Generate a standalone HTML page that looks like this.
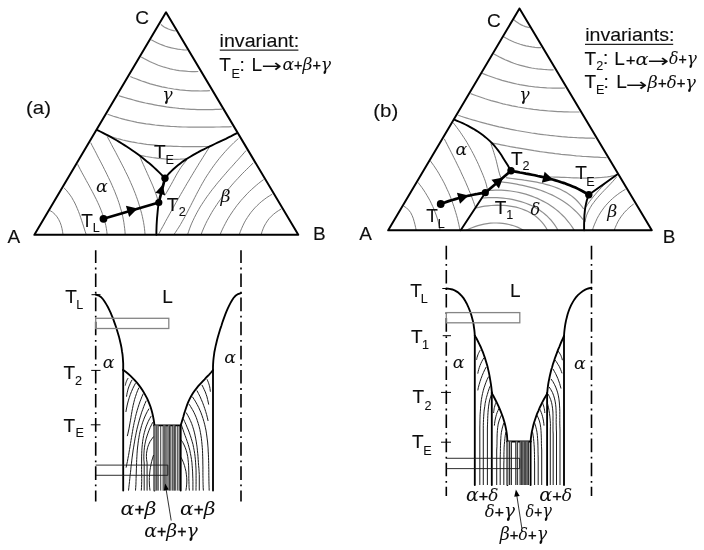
<!DOCTYPE html>
<html><head><meta charset="utf-8"><title>Ternary phase diagrams</title>
<style>
html,body{margin:0;padding:0;background:#fff}
svg{display:block}
text{fill:#111}
.t{font-family:"Liberation Sans",sans-serif;font-size:19px;stroke:#111;stroke-width:.12}
.s{font-family:"Liberation Sans",sans-serif;font-size:12.6px;stroke:#111;stroke-width:.1}
.gt{font-family:"DejaVu Serif",serif;font-style:italic;font-size:17.4px}
.gi{font-family:"DejaVu Serif",serif;font-style:italic;font-size:17.4px}
.pi{font-family:"Liberation Sans",sans-serif;font-size:14.5px}
.ga{font-family:"DejaVu Serif",serif;font-style:italic;font-size:19px}
.pa{font-family:"Liberation Sans",sans-serif;font-size:16px}
.gb{font-family:"DejaVu Serif",serif;font-style:italic;font-size:17.6px}
.pb{font-family:"Liberation Sans",sans-serif;font-size:15px}
.pp{stroke:#111;stroke-width:.35}
.gt.dl{font-size:16.2px}.gi.dl{font-size:16.2px}.gb.dl{font-size:15.8px}
.ar{font-family:"DejaVu Sans",sans-serif;font-size:18px}
.g{fill:none;stroke:#909090;stroke-width:1.2}
.h{fill:none;stroke:#6e6e6e;stroke-width:.9}
.k{fill:none;stroke:#000;stroke-width:1.9;stroke-linecap:round}
.tri{fill:none;stroke:#000;stroke-width:1.95;stroke-linejoin:round}
.p{fill:none;stroke:#000;stroke-width:2.7;stroke-linecap:round}
.ul{stroke:#222;stroke-width:1.3}
.dd{stroke:#000;stroke-width:1.6;stroke-dasharray:13.6 4.6 1.8 4.1}
.da{stroke-dashoffset:.9}
.tk{stroke:#000;stroke-width:1}
.c{fill:none;stroke:#000;stroke-width:1.85;stroke-linecap:round}
.tr{fill:none;stroke:#858585;stroke-width:1.3}
.t2{fill:none;stroke:#1a1a1a;stroke-width:.9}
.bl{stroke:#1a1a1a;stroke-width:.85}
.ht{fill:none;stroke:#111;stroke-width:.95}
</style></head><body>
<svg width="704" height="550" viewBox="0 0 704 550">
<defs><filter id="soft" x="0" y="0" width="704" height="550" filterUnits="userSpaceOnUse"><feGaussianBlur stdDeviation="0.42"/></filter></defs>
<rect width="704" height="550" fill="#fff"/>
<g filter="url(#soft)">
<g id="fig-a">
<path class="g" d="M160.9 24.4 L162.5 25.7 L164.2 26.9 L166.0 27.9 L167.8 28.8 L169.7 29.5 L171.6 30.1 L173.6 30.6 L175.7 30.9"/>
<path class="g" d="M151.2 39.8 L154.0 41.3 L156.9 42.7 L159.7 44.0 L162.6 45.1 L165.5 46.2 L168.5 47.1 L171.5 47.9 L174.5 48.5 L177.6 49.1 L180.7 49.5 L183.8 49.8 L187.0 50.0"/>
<path class="g" d="M141.2 56.9 L144.0 58.5 L146.8 60.0 L149.6 61.5 L152.5 62.8 L155.4 64.0 L158.3 65.2 L161.2 66.2 L164.2 67.2 L167.2 68.0 L170.2 68.8 L173.2 69.5 L176.3 70.1 L179.3 70.6 L182.4 70.9 L185.6 71.2 L188.7 71.5 L191.9 71.6 L195.1 71.6 L198.3 71.5"/>
<path class="g" d="M130.3 76.5 L133.1 77.7 L136.0 78.8 L138.8 79.9 L141.7 81.0 L144.6 81.9 L147.4 82.9 L150.3 83.8 L153.2 84.6 L156.1 85.4 L159.0 86.1 L161.9 86.8 L164.9 87.4 L167.8 88.0 L170.8 88.5 L173.7 89.0 L176.7 89.4 L179.7 89.8 L182.6 90.1 L185.6 90.4 L188.6 90.6 L191.7 90.8 L194.7 90.9 L197.7 90.9 L200.7 91.0 L203.8 90.9 L206.8 90.8 L209.9 90.7"/>
<path class="g" d="M118.8 95.7 L121.7 96.6 L124.7 97.5 L127.6 98.4 L130.6 99.2 L133.5 100.0 L136.5 100.8 L139.5 101.6 L142.5 102.3 L145.5 103.0 L148.5 103.6 L151.5 104.2 L154.5 104.8 L157.5 105.4 L160.6 105.9 L163.6 106.4 L166.6 106.9 L169.7 107.3 L172.7 107.7 L175.8 108.0 L178.9 108.4 L181.9 108.6 L185.0 108.9 L188.1 109.1 L191.1 109.3 L194.2 109.4 L197.3 109.6 L200.3 109.6 L203.4 109.7 L206.5 109.7 L209.6 109.6 L212.7 109.6 L215.7 109.4 L218.8 109.3 L221.9 109.1"/>
<path class="g" d="M107.6 114.2 L110.5 115.2 L113.4 116.2 L116.4 117.1 L119.3 118.0 L122.2 118.8 L125.2 119.6 L128.2 120.3 L131.1 121.0 L134.1 121.7 L137.1 122.3 L140.1 122.8 L143.1 123.3 L146.1 123.8 L149.2 124.2 L152.2 124.6 L155.2 125.0 L158.2 125.3 L161.3 125.6 L164.3 125.9 L167.4 126.1 L170.4 126.4 L173.5 126.5 L176.6 126.7 L179.6 126.8 L182.7 127.0 L185.7 127.0 L188.8 127.1 L191.9 127.2 L194.9 127.2 L198.0 127.2 L201.1 127.2 L204.1 127.2 L207.2 127.2 L210.3 127.1 L213.3 127.1 L216.4 127.0 L219.4 127.0 L222.5 126.9 L225.5 126.8 L228.6 126.8 L231.6 126.7"/>
<path class="g" d="M108.2 135.8 L111.1 136.7 L114.0 137.6 L116.9 138.5 L119.8 139.2 L122.8 140.0 L125.7 140.7 L128.7 141.3 L131.6 141.9 L134.6 142.4 L137.6 143.0 L140.6 143.4 L143.6 143.9 L146.6 144.3 L149.6 144.6 L152.6 144.9 L155.6 145.2 L158.6 145.5 L161.6 145.7 L164.6 145.9 L167.6 146.1 L170.7 146.2 L173.7 146.3 L176.7 146.4 L179.8 146.5 L182.8 146.6 L185.8 146.6 L188.8 146.6 L191.9 146.6 L194.9 146.6 L197.9 146.6 L200.9 146.6 L204.0 146.5 L207.0 146.5 L210.0 146.4"/>
<path class="g" d="M139.8 155.3 L142.9 155.9 L145.9 156.5 L149.0 157.0 L152.1 157.5 L155.2 157.9 L158.3 158.3 L161.4 158.6 L164.5 158.9 L167.7 159.1 L170.8 159.2 L173.9 159.3 L177.0 159.3 L180.2 159.2 L183.3 159.0 L186.4 158.8"/>
<path class="h" d="M49.9 210.5 L52.6 212.2 L55.0 214.4 L57.0 216.8 L58.7 219.5 L60.1 222.4 L61.2 225.4 L62.0 228.6 L62.6 231.7 L63.0 234.8"/>
<path class="h" d="M64.1 188.0 L66.3 190.2 L68.2 192.6 L70.1 195.1 L71.8 197.6 L73.3 200.3 L74.8 203.0 L76.1 205.8 L77.3 208.6 L78.5 211.5 L79.6 214.4 L80.6 217.3 L81.6 220.3 L82.5 223.2 L83.5 226.1 L84.4 229.1 L85.3 231.9 L86.3 234.8"/>
<path class="h" d="M77.6 164.2 L79.0 167.0 L80.4 169.7 L81.8 172.4 L83.3 175.1 L84.8 177.8 L86.3 180.6 L87.8 183.3 L89.3 186.0 L90.7 188.7 L92.2 191.4 L93.6 194.1 L95.0 196.9 L96.4 199.6 L97.7 202.4 L99.0 205.2 L100.2 208.0 L101.3 210.8 L102.4 213.7 L103.3 216.6 L104.2 219.5 L105.1 222.5 L105.8 225.5 L106.4 228.6 L106.8 231.7 L107.2 234.8"/>
<path class="h" d="M90.7 142.6 L92.0 145.3 L93.4 147.9 L94.8 150.6 L96.2 153.2 L97.5 155.9 L98.9 158.6 L100.3 161.2 L101.7 163.9 L103.1 166.6 L104.4 169.3 L105.8 172.0 L107.1 174.7 L108.4 177.4 L109.7 180.1 L111.0 182.9 L112.2 185.6 L113.4 188.4 L114.6 191.2 L115.7 194.0 L116.8 196.8 L117.8 199.6 L118.8 202.4 L119.7 205.2 L120.5 208.1 L121.4 211.0 L122.1 213.9 L122.8 216.8 L123.4 219.8 L123.9 222.7 L124.3 225.7 L124.7 228.7 L125.0 231.7 L125.2 234.8"/>
<path class="h" d="M107.2 136.4 L108.6 139.1 L110.0 141.7 L111.4 144.4 L112.8 147.1 L114.3 149.8 L115.7 152.4 L117.1 155.1 L118.5 157.8 L119.9 160.5 L121.3 163.2 L122.7 165.9 L124.1 168.6 L125.4 171.4 L126.8 174.1 L128.1 176.8 L129.4 179.6 L130.6 182.4 L131.8 185.1 L133.0 187.9 L134.1 190.7 L135.3 193.6 L136.3 196.4 L137.3 199.2 L138.3 202.1 L139.2 205.0 L140.1 207.9 L140.9 210.8 L141.7 213.7 L142.4 216.7 L143.0 219.6 L143.6 222.6 L144.1 225.6 L144.5 228.7 L144.8 231.7 L145.1 234.8"/>
<path class="h" d="M139.8 155.9 L140.9 158.9 L142.1 161.8 L143.4 164.7 L144.7 167.6 L146.0 170.5 L147.3 173.4 L148.6 176.3 L149.9 179.2 L151.2 182.1 L152.5 185.1 L153.7 188.0 L154.8 190.9 L155.9 193.9 L156.9 196.9 L157.8 200.0"/>
<path class="h" d="M186.8 160.0 L184.7 162.5 L182.7 165.0 L180.8 167.6 L179.1 170.3 L177.4 173.1 L175.8 175.9 L174.3 178.7 L172.7 181.6 L171.2 184.4 L169.6 187.2 L168.0 190.0 L166.4 192.8 L164.6 195.5"/>
<path class="h" d="M209.5 147.0 L207.8 149.6 L206.2 152.2 L204.5 154.8 L202.9 157.4 L201.3 160.0 L199.6 162.6 L198.0 165.3 L196.4 167.9 L194.8 170.5 L193.2 173.2 L191.6 175.8 L190.1 178.4 L188.5 181.1 L186.9 183.7 L185.4 186.4 L183.8 189.1 L182.3 191.7 L180.7 194.4 L179.2 197.1 L177.7 199.7 L176.1 202.4 L174.6 205.1 L173.1 207.8 L171.6 210.5 L170.1 213.2 L168.6 215.9 L167.1 218.6 L165.6 221.3 L164.2 224.0 L162.7 226.7 L161.2 229.4 L159.8 232.1 L158.3 234.8"/>
<path class="h" d="M238.4 138.5 L236.1 140.6 L233.8 142.7 L231.6 144.9 L229.4 147.1 L227.3 149.3 L225.2 151.6 L223.2 153.9 L221.2 156.2 L219.2 158.6 L217.3 161.0 L215.5 163.4 L213.7 165.8 L211.9 168.3 L210.2 170.8 L208.5 173.4 L206.8 175.9 L205.2 178.5 L203.7 181.1 L202.1 183.8 L200.6 186.5 L199.2 189.2 L197.7 191.9 L196.3 194.6 L194.9 197.3 L193.5 200.1 L192.1 202.8 L190.7 205.6 L189.3 208.3 L187.9 211.0 L186.5 213.8 L185.0 216.5 L183.5 219.2 L182.0 221.8 L180.5 224.5 L178.9 227.1 L177.2 229.7 L175.5 232.3 L173.8 234.8"/>
<path class="h" d="M246.1 150.5 L244.1 152.8 L242.1 155.1 L240.1 157.3 L238.1 159.6 L236.0 161.8 L234.0 164.1 L232.0 166.4 L229.9 168.6 L227.9 170.9 L225.9 173.2 L223.9 175.5 L221.9 177.8 L220.0 180.1 L218.0 182.4 L216.1 184.8 L214.2 187.2 L212.3 189.5 L210.5 191.9 L208.7 194.4 L206.9 196.8 L205.2 199.3 L203.5 201.8 L201.8 204.4 L200.2 206.9 L198.7 209.5 L197.2 212.2 L195.8 214.8 L194.4 217.6 L193.1 220.3 L191.8 223.1 L190.6 226.0 L189.5 228.9 L188.5 231.8 L187.5 234.8"/>
<path class="h" d="M253.2 163.0 L251.0 165.1 L248.8 167.3 L246.6 169.4 L244.4 171.6 L242.2 173.8 L240.1 176.0 L238.0 178.3 L235.9 180.5 L233.8 182.8 L231.8 185.1 L229.8 187.5 L227.8 189.8 L225.9 192.2 L224.0 194.7 L222.1 197.1 L220.3 199.6 L218.5 202.1 L216.8 204.6 L215.1 207.2 L213.4 209.8 L211.8 212.4 L210.3 215.1 L208.8 217.8 L207.3 220.5 L205.9 223.3 L204.6 226.1 L203.3 229.0 L202.1 231.9 L201.0 234.8"/>
<path class="h" d="M263.6 179.6 L261.1 181.4 L258.7 183.3 L256.3 185.3 L254.0 187.3 L251.7 189.4 L249.4 191.5 L247.2 193.7 L245.1 196.0 L243.0 198.3 L240.9 200.6 L239.0 203.0 L237.0 205.4 L235.2 207.9 L233.4 210.4 L231.6 213.0 L229.9 215.6 L228.3 218.2 L226.7 220.9 L225.3 223.6 L223.8 226.4 L222.5 229.1 L221.2 232.0 L220.0 234.8"/>
<path class="h" d="M272.2 194.2 L269.4 195.9 L266.7 197.6 L264.2 199.5 L261.7 201.4 L259.3 203.5 L257.1 205.6 L254.9 207.8 L252.9 210.1 L250.9 212.5 L249.1 215.0 L247.4 217.5 L245.7 220.2 L244.2 222.9 L242.8 225.8 L241.5 228.7 L240.3 231.7 L239.2 234.8"/>
<path class="h" d="M281.2 209.0 L278.5 210.6 L275.9 212.4 L273.5 214.3 L271.3 216.3 L269.2 218.5 L267.4 220.9 L265.8 223.4 L264.3 226.0 L263.1 228.8 L262.0 231.7 L261.1 234.8"/>
<path class="k" d="M97.4 130.1 L100.2 131.5 L102.9 132.9 L105.7 134.3 L108.4 135.7 L111.1 137.2 L113.8 138.7 L116.5 140.3 L119.2 141.9 L121.8 143.5 L124.4 145.1 L127.0 146.8 L129.6 148.5 L132.1 150.2 L134.7 152.0 L137.2 153.8 L139.6 155.6 L142.1 157.5 L144.5 159.4 L146.9 161.4 L149.3 163.3 L151.6 165.3 L153.9 167.4 L156.2 169.5 L158.4 171.6 L160.7 173.8 L162.8 176.0 L165.0 178.2"/>
<path class="k" d="M236.5 133.3 L233.9 134.7 L231.2 136.1 L228.5 137.4 L225.8 138.8 L223.0 140.1 L220.3 141.4 L217.5 142.7 L214.7 144.0 L212.0 145.3 L209.2 146.7 L206.4 148.0 L203.7 149.4 L201.0 150.7 L198.3 152.2 L195.6 153.6 L192.9 155.1 L190.3 156.7 L187.7 158.3 L185.2 159.9 L182.7 161.6 L180.3 163.4 L177.9 165.3 L175.6 167.2 L173.3 169.2 L171.1 171.3 L169.0 173.5 L167.0 175.8 L165.0 178.2"/>
<path class="k" d="M158.8 202.5 L158.3 205.7 L157.9 208.9 L157.6 212.1 L157.3 215.4 L157.0 218.6 L156.8 221.8 L156.6 225.1 L156.5 228.3 L156.4 231.6 L156.4 234.8"/>
<polygon class="tri" points="34.40,234.80 298.30,234.80 166.00,12.30"/>
<line class="p" x1="103.50" y1="218.80" x2="158.80" y2="202.50"/>
<line class="p" x1="158.80" y1="202.50" x2="165.00" y2="178.20"/>
<polygon fill="#000" points="137.60,208.40 129.15,216.88 125.90,205.85"/>
<polygon fill="#000" points="162.60,184.80 165.10,195.24 155.41,192.77"/>
<circle cx="103.50" cy="218.80" r="3.90" fill="#000"/>
<circle cx="158.80" cy="202.50" r="3.60" fill="#000"/>
<circle cx="165.00" cy="178.20" r="3.70" fill="#000"/>
<text id="t1" class="t" x="135.15" y="23.65">C</text>
<text id="t2" class="t" x="7.45" y="243.20">A</text>
<text id="t3" class="t" x="313.10" y="240.30">B</text>
<text id="t4" class="t" x="26.03" y="113.55" textLength="24.99" lengthAdjust="spacingAndGlyphs">(a)</text>
<text id="aTLT" class="t" x="81.20" y="226.85">T</text>
<text id="aTLs" class="s" x="92.67" y="232.05">L</text>
<text id="aT2T" class="t" x="166.85" y="210.80">T</text>
<text id="aT2s" class="s" x="178.85" y="216.00">2</text>
<text id="aTET" class="t" x="154.10" y="158.20">T</text>
<text id="aTEs" class="s" x="165.50" y="163.65">E</text>
<text id="t11" class="gt" x="95.90" y="192.40">α</text>
<text id="t12" class="gt" x="220.55" y="201.85">β</text>
<text id="t13" class="gt" x="162.35" y="100.27">γ</text>
<text id="t14" class="t" x="219.52" y="46.95" textLength="79.77" lengthAdjust="spacingAndGlyphs">invariant:</text>
<line class="ul" x1="219.80" y1="50.10" x2="298.40" y2="50.10"/>
<text id="aiTT" class="t" x="219.35" y="71.40">T</text>
<text id="aiTs" class="s" x="231.50" y="77.88">E</text>
<text id="t17" class="t" x="239.45" y="71.40">:</text>
<text id="t18" class="t" x="251.50" y="71.40">L</text>
<text id="t19" class="ar" x="261.64" y="72.20" textLength="20.43" lengthAdjust="spacingAndGlyphs">→</text>
<text id="ai_g" x="282.40" y="70.40" textLength="48.66" lengthAdjust="spacingAndGlyphs"><tspan class="gi">α</tspan><tspan class="pi pp">+</tspan><tspan class="gi">β</tspan><tspan class="pi pp">+</tspan><tspan class="gi">γ</tspan></text>
<line class="dd da" x1="95.70" y1="250.30" x2="95.70" y2="501.50"/>
<line class="dd da" x1="241.00" y1="250.30" x2="241.00" y2="501.50"/>
<line class="tk" x1="91.50" y1="294.70" x2="100.50" y2="294.70"/>
<line class="tk" x1="91.20" y1="370.40" x2="100.50" y2="370.40"/>
<line class="tk" x1="90.80" y1="424.80" x2="100.50" y2="424.80"/>
<path class="c" d="M95.7 294.5 L98.7 295.5 L101.2 297.2 L103.2 299.5 L104.9 302.0 L106.5 304.6 L108.0 307.3 L109.4 310.1 L110.7 312.9 L111.9 315.8 L113.1 318.7 L114.1 321.6 L115.2 324.6 L116.2 327.5 L117.1 330.4 L118.0 333.4 L118.9 336.4 L119.6 339.3 L120.3 342.3 L121.0 345.3 L121.6 348.3 L122.0 351.4 L122.5 354.4 L122.8 357.5 L123.0 360.5 L123.2 363.6 L123.2 366.8 L123.2 369.9"/>
<path class="c" d="M241.0 293.1 L238.0 294.1 L235.5 295.8 L233.5 298.0 L231.9 300.5 L230.4 303.1 L229.0 305.8 L227.7 308.6 L226.5 311.4 L225.4 314.2 L224.3 317.1 L223.3 319.9 L222.3 322.8 L221.4 325.7 L220.4 328.6 L219.5 331.5 L218.6 334.4 L217.8 337.3 L217.0 340.2 L216.3 343.2 L215.6 346.1 L215.0 349.1 L214.4 352.0 L214.0 355.0 L213.6 358.0 L213.3 361.0 L213.1 364.1 L213.0 367.1 L213.0 370.2"/>
<rect class="tr" x="95.7" y="318.3" width="73.1" height="10.2"/>
<line class="c" x1="123.20" y1="369.90" x2="123.20" y2="490.60"/>
<line class="c" x1="213.00" y1="370.20" x2="213.00" y2="490.60"/>
<path class="c" d="M123.2 369.9 L125.7 371.8 L128.1 373.8 L130.5 375.9 L132.7 378.1 L134.9 380.3 L136.9 382.7 L138.9 385.1 L140.7 387.6 L142.5 390.2 L144.1 392.9 L145.6 395.6 L147.1 398.3 L148.3 401.2 L149.5 404.1 L150.6 407.0 L151.5 410.0 L152.3 413.0 L153.0 416.1 L153.6 419.2 L154.1 422.3 L154.4 425.4"/>
<path class="c" d="M213.0 370.2 L211.0 372.5 L208.9 374.8 L206.7 377.0 L204.6 379.3 L202.4 381.6 L200.3 383.9 L198.2 386.2 L196.3 388.6 L194.4 391.0 L192.7 393.6 L191.1 396.2 L189.7 398.9 L188.4 401.7 L187.2 404.6 L186.2 407.5 L185.2 410.5 L184.2 413.5 L183.4 416.5 L182.5 419.5 L181.6 422.5 L180.7 425.4"/>
<line class="c" x1="154.40" y1="425.40" x2="180.70" y2="425.40"/>
<line class="c" x1="154.40" y1="425.40" x2="154.40" y2="490.60"/>
<line class="c" x1="180.70" y1="425.40" x2="180.70" y2="490.60"/>
<rect x="154.4" y="425.4" width="4.2" height="65.2" fill="#b2b2b2"/>
<rect x="163.1" y="425.4" width="2.5" height="65.2" fill="#b2b2b2"/>
<rect x="167.9" y="425.4" width="2.5" height="65.2" fill="#b2b2b2"/>
<rect x="172.7" y="425.4" width="2.5" height="65.2" fill="#b2b2b2"/>
<line class="bl" x1="156.20" y1="425.40" x2="156.20" y2="490.60"/>
<line class="bl" x1="158.10" y1="425.40" x2="158.10" y2="490.60"/>
<line class="bl" x1="160.70" y1="425.40" x2="160.70" y2="490.60"/>
<line class="bl" x1="163.10" y1="425.40" x2="163.10" y2="490.60"/>
<line class="bl" x1="164.90" y1="425.40" x2="164.90" y2="490.60"/>
<line class="bl" x1="166.20" y1="425.40" x2="166.20" y2="490.60"/>
<line class="bl" x1="167.90" y1="425.40" x2="167.90" y2="490.60"/>
<line class="bl" x1="169.60" y1="425.40" x2="169.60" y2="490.60"/>
<line class="bl" x1="170.90" y1="425.40" x2="170.90" y2="490.60"/>
<line class="bl" x1="172.70" y1="425.40" x2="172.70" y2="490.60"/>
<line class="bl" x1="174.30" y1="425.40" x2="174.30" y2="490.60"/>
<line class="bl" x1="175.70" y1="425.40" x2="175.70" y2="490.60"/>
<line class="bl" x1="177.70" y1="425.40" x2="177.70" y2="490.60"/>
<line class="bl" x1="179.20" y1="425.40" x2="179.20" y2="490.60"/>
<path class="ht" d="M128.1 378.1 L127.6 379.0 L127.1 379.8 L126.7 380.7 L126.3 381.7 L126.0 382.6 L125.7 383.5 L125.5 384.5 L125.3 385.5"/>
<path class="ht" d="M132.1 379.8 L131.0 381.8 L130.1 383.8 L129.2 385.9 L128.4 388.0 L127.8 390.1 L127.3 392.3 L126.8 394.5 L126.5 396.7"/>
<path class="ht" d="M135.5 383.2 L134.1 385.9 L132.7 388.7 L131.5 391.5 L130.4 394.3 L129.4 397.2 L128.5 400.1 L127.7 403.0 L127.0 406.0 L126.4 409.0 L125.9 412.0"/>
<path class="ht" d="M138.9 387.7 L137.6 390.6 L136.5 393.5 L135.5 396.5 L134.6 399.4 L133.8 402.5 L133.1 405.5 L132.5 408.5 L131.9 411.6 L131.4 414.7 L130.9 417.7 L130.4 420.8 L129.8 423.9 L129.3 427.0 L128.7 430.0 L128.0 433.1 L127.3 436.1"/>
<path class="ht" d="M143.4 393.4 L142.1 396.2 L141.0 399.1 L139.9 401.9 L138.9 404.8 L138.0 407.7 L137.1 410.6 L136.3 413.6 L135.5 416.5 L134.9 419.5 L134.2 422.5 L133.6 425.5 L133.0 428.5 L132.5 431.5 L132.0 434.5 L131.5 437.5 L131.0 440.5 L130.5 443.6 L130.0 446.6 L129.5 449.6 L129.0 452.6 L128.5 455.6 L127.9 458.6 L127.4 461.6 L126.7 464.6 L126.1 467.6"/>
<path class="ht" d="M146.2 400.7 L145.0 403.5 L143.8 406.4 L142.8 409.3 L141.7 412.2 L140.8 415.1 L139.9 418.0 L139.1 420.9 L138.3 423.9 L137.5 426.9 L136.8 429.8 L136.2 432.8 L135.6 435.8 L135.0 438.8 L134.5 441.9 L134.0 444.9 L133.5 447.9 L133.0 451.0 L132.6 454.0 L132.2 457.1 L131.8 460.1 L131.5 463.2 L131.1 466.2 L130.8 469.3 L130.5 472.3 L130.1 475.4 L129.8 478.4 L129.5 481.5 L129.2 484.5 L128.8 487.6 L128.5 490.6"/>
<path class="ht" d="M149.0 408.6 L147.4 411.4 L146.0 414.1 L144.7 417.0 L143.6 419.8 L142.5 422.8 L141.6 425.7 L140.8 428.7 L140.0 431.7 L139.4 434.7 L138.9 437.7 L138.4 440.8 L138.0 443.9 L137.6 447.0 L137.3 450.1 L137.1 453.2 L136.9 456.3 L136.7 459.5 L136.6 462.6 L136.5 465.7 L136.4 468.9 L136.3 472.0 L136.2 475.1 L136.1 478.3 L136.0 481.4 L135.9 484.5 L135.7 487.5 L135.5 490.6"/>
<path class="ht" d="M151.3 415.9 L149.7 418.6 L148.3 421.3 L147.1 424.1 L146.0 426.9 L145.1 429.8 L144.3 432.7 L143.6 435.6 L143.1 438.6 L142.6 441.6 L142.3 444.6 L142.0 447.7 L141.8 450.7 L141.7 453.8 L141.6 456.9 L141.6 460.0 L141.6 463.1 L141.6 466.2 L141.6 469.3 L141.6 472.4 L141.7 475.5 L141.7 478.5 L141.7 481.6 L141.6 484.6 L141.5 487.6 L141.3 490.6"/>
<path class="ht" d="M152.9 422.1 L151.5 424.8 L150.2 427.5 L149.0 430.3 L148.0 433.1 L147.0 436.0 L146.1 438.9 L145.4 441.9 L144.8 444.8 L144.4 447.8 L144.1 450.8 L143.9 453.9 L143.8 456.9 L143.9 460.0 L144.2 463.0 L144.2 490.6"/>
<path class="ht" d="M153.6 436.5 L151.7 439.1 L150.0 441.7 L148.7 444.5 L147.7 447.3 L147.0 450.3 L146.5 453.3 L146.4 456.5 L146.6 459.7 L147.1 463.0 L147.1 490.6"/>
<path class="ht" d="M153.6 455.0 L152.6 458.1 L151.7 461.3 L151.0 464.5 L150.4 467.7 L149.9 470.9 L149.6 474.1 L149.4 477.4 L149.3 480.7 L149.4 484.0 L149.6 487.3 L150.0 490.6"/>
<path class="ht" d="M207.0 379.3 L207.7 380.8 L208.3 382.3 L208.8 383.8 L209.3 385.3 L209.7 386.9 L210.0 388.5 L210.2 390.1 L210.4 391.7"/>
<path class="ht" d="M201.9 384.9 L203.1 387.2 L204.2 389.6 L205.3 392.0 L206.2 394.5 L207.0 396.9 L207.6 399.5 L208.2 402.0 L208.7 404.6"/>
<path class="ht" d="M196.9 390.5 L198.4 393.4 L199.9 396.3 L201.2 399.3 L202.5 402.3 L203.6 405.3 L204.7 408.4 L205.7 411.5 L206.6 414.6 L207.4 417.8 L208.1 421.0"/>
<path class="ht" d="M192.3 396.7 L194.1 399.3 L195.7 401.9 L197.2 404.6 L198.6 407.3 L199.8 410.0 L201.0 412.8 L202.0 415.6 L203.0 418.5 L203.8 421.3 L204.6 424.2 L205.3 427.2 L205.9 430.1 L206.4 433.1 L206.8 436.0 L207.2 439.0 L207.6 442.0 L207.8 445.1 L208.1 448.1 L208.2 451.1 L208.4 454.2 L208.5 457.3 L208.6 460.3 L208.7 463.4 L208.7 466.4 L208.8 469.5 L208.8 472.5 L208.8 475.6 L208.9 478.6 L208.9 481.6 L209.0 484.6 L209.1 487.6 L209.2 490.6"/>
<path class="ht" d="M189.0 404.1 L190.7 406.7 L192.3 409.4 L193.8 412.1 L195.1 414.9 L196.3 417.7 L197.3 420.6 L198.2 423.4 L199.1 426.4 L199.8 429.3 L200.4 432.3 L200.9 435.3 L201.4 438.3 L201.7 441.4 L202.0 444.4 L202.3 447.5 L202.5 450.6 L202.6 453.7 L202.7 456.8 L202.8 459.9 L202.8 463.0 L202.9 466.1 L202.9 469.2 L202.9 472.3 L202.9 475.4 L203.0 478.5 L203.0 481.5 L203.1 484.6 L203.2 487.6 L203.4 490.6"/>
<path class="ht" d="M186.1 412.5 L187.7 415.2 L189.1 417.9 L190.4 420.6 L191.6 423.4 L192.6 426.3 L193.5 429.2 L194.3 432.1 L195.0 435.1 L195.6 438.1 L196.2 441.1 L196.6 444.1 L197.1 447.2 L197.4 450.2 L197.7 453.3 L198.0 456.4 L198.2 459.4 L198.4 462.5 L198.6 465.5 L198.9 468.6 L199.1 471.6 L199.3 474.6 L199.3 490.6"/>
<path class="ht" d="M183.3 418.7 L184.6 421.5 L185.9 424.3 L187.1 427.2 L188.3 430.0 L189.4 432.9 L190.4 435.8 L191.3 438.7 L192.2 441.7 L193.0 444.6 L193.6 447.6 L194.2 450.6 L194.7 453.7 L195.1 456.7 L195.4 459.8 L195.6 462.8 L195.8 465.9 L196.0 469.0 L196.1 472.1 L196.1 475.2 L196.1 478.3 L196.1 481.4 L196.1 484.5 L196.0 487.5 L196.0 490.6"/>
<path class="ht" d="M181.1 423.8 L182.0 426.8 L183.0 429.7 L184.0 432.7 L185.1 435.6 L186.2 438.5 L187.2 441.4 L188.2 444.4 L189.0 447.3 L189.8 450.3 L190.4 453.4 L191.0 456.4 L191.5 459.5 L191.9 462.6 L192.2 465.7 L192.4 468.8 L192.6 471.9 L192.7 475.0 L192.8 478.2 L192.9 481.3 L192.9 484.4 L192.9 487.5 L192.9 490.6"/>
<path class="ht" d="M180.9 439.6 L182.7 442.3 L184.1 445.0 L185.3 447.8 L186.3 450.7 L187.1 453.6 L187.7 456.6 L188.1 459.7 L188.4 462.7 L188.6 465.8 L188.7 469.0 L188.8 472.1 L188.8 475.2 L188.8 478.3 L188.9 481.4 L189.0 484.5 L189.1 487.6 L189.4 490.6"/>
<path class="ht" d="M180.9 457.1 L182.3 459.9 L183.5 462.8 L184.5 465.7 L185.3 468.7 L186.0 471.7 L186.4 474.8 L186.7 477.8 L186.8 481.0 L186.7 484.1 L186.4 487.3 L185.9 490.6"/>
<path class="t2" d="M95.7 465.1 H167.8 V475.3 H95.7"/>
<line class="t2" x1="171.20" y1="520.50" x2="165.80" y2="487.50"/>
<polygon fill="#000" points="165.20,483.60 168.72,489.61 163.79,490.42"/>
<text id="alTLT" class="t" x="65.20" y="303.20">T</text>
<text id="alTLs" class="s" x="76.20" y="308.65">L</text>
<text id="alT2T" class="t" x="63.60" y="378.95">T</text>
<text id="alT2s" class="s" x="75.05" y="384.75">2</text>
<text id="alTET" class="t" x="63.60" y="431.60">T</text>
<text id="alTEs" class="s" x="75.48" y="436.75">E</text>
<text id="t27" class="t" x="162.30" y="303.00">L</text>
<text id="t28" class="gt" x="102.85" y="367.55">α</text>
<text id="t29" class="gt" x="224.35" y="362.75">α</text>
<text id="al_ab1" x="120.52" y="515.00" textLength="35.93" lengthAdjust="spacingAndGlyphs"><tspan class="ga">α</tspan><tspan class="pa pp">+</tspan><tspan class="ga">β</tspan></text>
<text id="al_ab2" x="180.11" y="515.00" textLength="35.37" lengthAdjust="spacingAndGlyphs"><tspan class="ga">α</tspan><tspan class="pa pp">+</tspan><tspan class="ga">β</tspan></text>
<text id="al_abg" x="144.37" y="537.20" textLength="53.43" lengthAdjust="spacingAndGlyphs"><tspan class="ga">α</tspan><tspan class="pa pp">+</tspan><tspan class="ga">β</tspan><tspan class="pa pp">+</tspan><tspan class="ga">γ</tspan></text>
</g>
<g id="fig-b">
<path class="g" d="M513.9 19.8 L515.6 21.3 L517.5 22.6 L519.3 23.8 L521.3 24.9 L523.3 25.8 L525.4 26.6 L527.6 27.2 L529.8 27.7"/>
<path class="g" d="M503.6 36.8 L506.3 38.3 L509.0 39.7 L511.7 41.0 L514.5 42.2 L517.3 43.3 L520.2 44.3 L523.1 45.1 L526.0 45.8 L528.9 46.4 L531.9 46.9 L535.0 47.3 L538.0 47.6 L541.1 47.7"/>
<path class="g" d="M493.9 53.9 L496.7 55.5 L499.5 57.0 L502.3 58.4 L505.1 59.7 L508.0 60.9 L510.9 62.1 L513.8 63.2 L516.7 64.2 L519.7 65.1 L522.6 65.9 L525.6 66.7 L528.6 67.4 L531.7 68.0 L534.7 68.5 L537.8 68.9 L540.9 69.2 L544.1 69.5 L547.2 69.7 L550.4 69.8 L553.6 69.8"/>
<path class="g" d="M482.0 73.2 L484.9 74.4 L487.7 75.5 L490.6 76.5 L493.5 77.5 L496.3 78.5 L499.2 79.4 L502.1 80.3 L505.0 81.1 L508.0 81.9 L510.9 82.6 L513.8 83.3 L516.8 84.0 L519.7 84.6 L522.7 85.1 L525.7 85.6 L528.6 86.1 L531.6 86.5 L534.6 86.9 L537.6 87.2 L540.6 87.5 L543.6 87.7 L546.7 87.9 L549.7 88.0 L552.7 88.1 L555.8 88.1 L558.9 88.1 L561.9 88.1 L565.0 88.0"/>
<path class="g" d="M470.7 93.6 L473.6 94.7 L476.5 95.8 L479.4 96.8 L482.3 97.8 L485.2 98.8 L488.2 99.7 L491.1 100.6 L494.1 101.4 L497.1 102.2 L500.0 103.0 L503.0 103.8 L506.0 104.5 L509.0 105.1 L512.1 105.8 L515.1 106.4 L518.1 107.0 L521.1 107.5 L524.2 108.0 L527.2 108.5 L530.3 108.9 L533.3 109.4 L536.4 109.7 L539.5 110.1 L542.5 110.4 L545.6 110.7 L548.7 111.0 L551.8 111.2 L554.8 111.4 L557.9 111.6 L561.0 111.7 L564.1 111.8 L567.2 111.9 L570.3 112.0 L573.3 112.0 L576.4 112.0 L579.5 112.0"/>
<path class="g" d="M458.2 115.3 L461.1 116.3 L464.0 117.2 L466.8 118.1 L469.7 119.0 L472.6 119.9 L475.5 120.7 L478.4 121.5 L481.4 122.3 L484.3 123.1 L487.2 123.9 L490.1 124.6 L493.1 125.4 L496.0 126.1 L499.0 126.8 L501.9 127.4 L504.9 128.1 L507.8 128.7 L510.8 129.3 L513.8 129.9 L516.7 130.5 L519.7 131.0 L522.7 131.5 L525.7 132.0 L528.6 132.5 L531.6 133.0 L534.6 133.4 L537.6 133.9 L540.6 134.3 L543.6 134.7 L546.6 135.0 L549.6 135.4 L552.6 135.7 L555.6 136.0 L558.7 136.3 L561.7 136.6 L564.7 136.8 L567.7 137.1 L570.7 137.3 L573.7 137.5 L576.8 137.7 L579.8 137.8 L582.8 137.9 L585.8 138.1 L588.9 138.2 L591.9 138.2 L594.9 138.3"/>
<path class="g" d="M492.3 143.0 L495.3 143.6 L498.2 144.2 L501.2 144.8 L504.2 145.4 L507.2 146.0 L510.2 146.6 L513.1 147.1 L516.1 147.7 L519.1 148.2 L522.1 148.7 L525.1 149.2 L528.1 149.7 L531.1 150.2 L534.1 150.7 L537.1 151.1 L540.1 151.6 L543.1 152.0 L546.1 152.4 L549.1 152.8 L552.1 153.2 L555.1 153.6 L558.1 153.9 L561.1 154.3 L564.1 154.6 L567.2 154.9 L570.2 155.2 L573.2 155.5 L576.2 155.8 L579.2 156.0 L582.3 156.3 L585.3 156.5 L588.3 156.7 L591.3 156.9 L594.4 157.1 L597.4 157.2 L600.4 157.4 L603.5 157.5 L606.5 157.6"/>
<path class="g" d="M549.0 177.0 L552.1 177.0 L555.1 177.1 L558.2 177.2 L561.3 177.3 L564.3 177.4 L567.4 177.5 L570.5 177.7 L573.6 177.8 L576.7 177.9 L579.8 178.0 L582.9 178.1 L585.9 178.1 L589.0 178.1 L592.1 178.0 L595.2 177.9 L598.2 177.7 L601.3 177.5 L604.4 177.2 L607.4 176.8 L610.4 176.3 L613.5 175.7 L616.5 175.0"/>
<path class="h" d="M403.8 206.2 L406.5 207.9 L408.7 210.1 L410.6 212.5 L412.0 215.3 L413.2 218.2 L414.1 221.3 L414.9 224.3 L415.6 227.4 L416.2 230.3"/>
<path class="h" d="M418.0 182.4 L419.9 184.9 L421.8 187.4 L423.6 190.0 L425.3 192.6 L426.9 195.3 L428.5 198.0 L430.0 200.7 L431.4 203.6 L432.7 206.4 L434.0 209.3 L435.1 212.2 L436.2 215.1 L437.2 218.1 L438.1 221.1 L438.8 224.2 L439.5 227.2 L440.1 230.3"/>
<path class="h" d="M430.1 160.5 L431.9 163.0 L433.7 165.5 L435.4 168.0 L437.1 170.6 L438.7 173.2 L440.2 175.9 L441.7 178.5 L443.2 181.2 L444.6 183.9 L445.9 186.7 L447.2 189.5 L448.5 192.3 L449.7 195.1 L450.8 197.9 L451.9 200.8 L452.9 203.7 L453.9 206.6 L454.8 209.5 L455.7 212.4 L456.6 215.4 L457.4 218.3 L458.1 221.3 L458.8 224.3 L459.4 227.3 L460.0 230.3"/>
<path class="h" d="M444.3 138.9 L445.7 141.6 L447.1 144.3 L448.4 146.9 L449.8 149.6 L451.2 152.3 L452.6 155.0 L453.9 157.7 L455.3 160.4 L456.6 163.1 L457.9 165.8 L459.3 168.5 L460.6 171.3 L461.8 174.0 L463.1 176.7 L464.4 179.5 L465.6 182.2 L466.8 185.0 L468.0 187.8 L469.1 190.6 L470.3 193.3 L471.4 196.2 L472.5 199.0 L473.5 201.8 L474.5 204.6 L475.5 207.5"/>
<path class="h" d="M453.0 122.5 L454.9 124.9 L456.7 127.3 L458.5 129.7 L460.3 132.2 L462.0 134.8 L463.7 137.3 L465.4 139.9 L467.0 142.5 L468.5 145.2 L470.0 147.8 L471.5 150.5 L473.0 153.3 L474.4 156.0 L475.7 158.7 L477.1 161.5 L478.4 164.3 L479.6 167.1 L480.8 169.9 L482.0 172.7 L483.2 175.5 L484.3 178.4 L485.3 181.2 L486.2 184.1 L486.9 187.0 L487.5 190.0"/>
<path class="h" d="M490.9 143.7 L491.9 146.6 L492.9 149.5 L493.8 152.4 L494.7 155.3 L495.6 158.3 L496.4 161.2 L497.1 164.2 L497.8 167.2 L498.5 170.1 L499.3 173.1 L500.2 176.0 L501.3 178.8"/>
<path class="g" d="M506.0 177.7 L509.0 178.1 L512.0 178.5 L515.0 178.9 L518.1 179.3 L521.2 179.7 L524.3 180.2 L527.4 180.6 L530.5 181.1 L533.6 181.6 L536.7 182.2 L539.7 182.8 L542.8 183.5 L545.8 184.3 L548.8 185.1 L551.7 186.0 L554.6 187.0 L557.5 188.1 L560.3 189.3 L563.0 190.7 L565.7 192.1 L568.3 193.7 L570.8 195.4 L573.2 197.3 L575.5 199.3 L577.7 201.5 L579.8 203.8 L581.8 206.3 L583.7 209.0"/>
<path class="g" d="M498.5 181.5 L501.5 181.9 L504.6 182.3 L507.6 182.7 L510.6 183.1 L513.7 183.6 L516.7 184.2 L519.7 184.8 L522.8 185.4 L525.8 186.1 L528.8 186.8 L531.8 187.6 L534.7 188.4 L537.7 189.4 L540.6 190.3 L543.5 191.4 L546.3 192.5 L549.1 193.7 L551.9 194.9 L554.6 196.3 L557.3 197.7 L560.0 199.2 L562.5 200.8 L565.1 202.5 L567.6 204.2 L570.0 206.1 L572.3 208.1 L574.6 210.2 L576.9 212.4 L579.0 214.7 L581.1 217.1 L583.1 219.6"/>
<path class="g" d="M489.0 190.5 L492.1 190.3 L495.2 190.2 L498.3 190.2 L501.3 190.2 L504.4 190.4 L507.5 190.7 L510.6 191.0 L513.7 191.5 L516.7 192.0 L519.8 192.6 L522.8 193.4 L525.8 194.2 L528.7 195.1 L531.6 196.1 L534.5 197.2 L537.4 198.4 L540.2 199.7 L542.9 201.1 L545.6 202.5 L548.3 204.1 L550.8 205.8 L553.4 207.5 L555.8 209.4 L558.2 211.3 L560.5 213.4 L562.7 215.5 L564.9 217.7 L566.9 220.1 L568.9 222.5 L570.8 225.0 L572.6 227.6 L574.2 230.3"/>
<path class="g" d="M482.0 198.0 L485.0 197.8 L488.0 197.7 L491.0 197.6 L494.0 197.6 L497.0 197.7 L500.1 197.9 L503.1 198.2 L506.1 198.5 L509.1 198.9 L512.1 199.4 L515.1 200.1 L518.0 200.8 L520.9 201.6 L523.7 202.5 L526.5 203.5 L529.3 204.6 L532.0 205.8 L534.6 207.2 L537.2 208.6 L539.7 210.2 L542.1 211.9 L544.4 213.7 L546.7 215.7 L548.8 217.8 L550.9 220.0 L552.8 222.4 L554.7 224.9 L556.4 227.5 L558.0 230.3"/>
<path class="g" d="M476.0 208.0 L478.9 207.3 L481.9 206.7 L484.9 206.2 L488.0 205.8 L491.1 205.5 L494.2 205.3 L497.4 205.2 L500.5 205.3 L503.7 205.4 L506.8 205.7 L509.9 206.1 L513.0 206.6 L516.1 207.2 L519.0 208.0 L522.0 209.0 L524.8 210.1 L527.6 211.3 L530.3 212.8 L532.9 214.3 L535.4 216.1 L537.8 218.0 L540.0 220.1 L542.1 222.3 L544.1 224.8 L545.9 227.5 L547.5 230.3"/>
<path class="g" d="M466.4 230.3 L469.1 228.9 L472.0 227.7 L474.9 226.6 L477.9 225.6 L480.9 224.8 L484.0 224.1 L487.1 223.6 L490.3 223.2 L493.4 223.0 L496.6 223.0 L499.8 223.1 L502.9 223.4 L506.0 223.8 L509.1 224.5 L512.1 225.3 L515.1 226.3 L518.0 227.4 L520.8 228.8 L523.5 230.3"/>
<path class="h" d="M608.3 181.0 L606.0 183.1 L603.7 185.3 L601.5 187.5 L599.3 189.8 L597.2 192.1 L595.2 194.5 L593.2 196.9 L591.3 199.3 L589.4 201.8 L587.6 204.4 L585.9 207.0"/>
<path class="h" d="M616.6 176.9 L614.7 179.2 L612.8 181.4 L610.7 183.7 L608.6 185.9 L606.4 188.2 L604.2 190.4 L602.0 192.7 L599.8 195.1 L597.7 197.5 L595.7 199.9 L593.8 202.4 L591.9 204.9 L590.3 207.6 L588.8 210.3 L587.5 213.0 L586.4 215.9 L585.6 218.9 L585.0 222.0"/>
<path class="h" d="M625.5 189.3 L622.6 191.0 L619.9 192.8 L617.3 194.7 L614.8 196.6 L612.4 198.7 L610.1 200.8 L607.9 203.1 L605.8 205.4 L603.9 207.8 L602.1 210.3 L600.3 212.9 L598.7 215.6 L597.2 218.3 L595.9 221.2 L594.6 224.1 L593.4 227.2 L592.4 230.3"/>
<path class="h" d="M633.7 204.0 L631.2 205.9 L628.9 207.9 L626.7 210.0 L624.6 212.2 L622.7 214.5 L620.9 216.9 L619.3 219.3 L617.8 221.9 L616.5 224.6 L615.3 227.4 L614.2 230.3"/>
<path class="k" d="M454.3 119.6 L457.1 120.8 L459.9 122.0 L462.6 123.2 L465.4 124.5 L468.1 125.9 L470.7 127.3 L473.4 128.8 L475.9 130.4 L478.5 132.0 L481.0 133.8 L483.4 135.5 L485.7 137.4 L488.0 139.4 L490.2 141.4 L492.3 143.5 L494.3 145.7 L496.2 148.0 L498.1 150.4 L499.8 152.8 L501.5 155.3 L503.1 157.9 L504.7 160.4 L506.3 163.0 L507.9 165.6 L509.4 168.2 L511.0 170.8"/>
<path class="k" d="M460.70 230.30 L485.30 192.70"/>
<path class="k" d="M588.80 194.80 L617.20 174.40"/>
<path class="k" d="M588.8 194.8 L587.7 197.6 L586.8 200.5 L586.1 203.4 L585.5 206.4 L585.0 209.3 L584.7 212.3 L584.4 215.3 L584.3 218.3 L584.2 221.3 L584.1 224.3 L584.1 227.3 L584.1 230.3"/>
<polygon class="tri" points="388.20,230.30 651.80,230.30 519.50,8.40"/>
<path class="p" d="M440.7 204.0 L443.6 202.9 L446.5 201.9 L449.4 200.9 L452.4 200.0 L455.3 199.1 L458.3 198.3 L461.2 197.5 L464.2 196.7 L467.2 196.0 L470.2 195.4 L473.2 194.7 L476.2 194.2 L479.2 193.6 L482.3 193.1 L485.3 192.7"/>
<line class="p" x1="485.30" y1="192.70" x2="511.00" y2="170.80"/>
<path class="p" d="M511.0 170.8 L514.0 171.4 L516.9 171.9 L519.9 172.5 L522.9 173.0 L525.9 173.6 L528.9 174.1 L531.9 174.7 L534.8 175.3 L537.8 176.0 L540.8 176.6 L543.8 177.3 L546.7 178.0 L549.7 178.8 L552.6 179.5 L555.5 180.4 L558.4 181.2 L561.3 182.2 L564.2 183.1 L567.0 184.2 L569.8 185.3 L572.6 186.4 L575.4 187.6 L578.1 188.9 L580.8 190.3 L583.5 191.7 L586.2 193.2 L588.8 194.8"/>
<polygon fill="#000" points="468.60,195.50 460.02,203.85 456.94,192.77"/>
<polygon fill="#000" points="503.20,177.40 498.94,188.59 491.48,179.83"/>
<polygon fill="#000" points="553.40,179.80 541.82,182.83 544.61,171.68"/>
<circle cx="440.70" cy="204.00" r="3.90" fill="#000"/>
<circle cx="485.30" cy="192.70" r="3.60" fill="#000"/>
<circle cx="511.00" cy="170.80" r="3.70" fill="#000"/>
<circle cx="588.80" cy="194.80" r="3.70" fill="#000"/>
<text id="t33" class="t" x="486.95" y="27.05">C</text>
<text id="t34" class="t" x="359.20" y="239.55">A</text>
<text id="t35" class="t" x="662.80" y="243.20">B</text>
<text id="t36" class="t" x="373.29" y="117.30" textLength="24.99" lengthAdjust="spacingAndGlyphs">(b)</text>
<text id="bTLT" class="t" x="426.25" y="222.00">T</text>
<text id="bTLs" class="s" x="437.65" y="228.48">L</text>
<text id="bT1T" class="t" x="494.65" y="214.25">T</text>
<text id="bT1s" class="s" x="506.30" y="218.75">1</text>
<text id="bT2T" class="t" x="510.90" y="165.00">T</text>
<text id="bT2s" class="s" x="522.45" y="170.45">2</text>
<text id="bTET" class="t" x="575.20" y="178.75">T</text>
<text id="bTEs" class="s" x="586.20" y="185.55">E</text>
<text id="t45" class="gt" x="455.62" y="155.49">α</text>
<text id="t46" class="gt" x="607.25" y="217.00">β</text>
<text id="t47" class="gt" x="519.20" y="100.25">γ</text>
<text id="t48" class="gt dl" x="530.45" y="214.70">δ</text>
<text id="t49" class="t" x="585.16" y="41.10" textLength="89.25" lengthAdjust="spacingAndGlyphs">invariants:</text>
<line class="ul" x1="585.00" y1="44.30" x2="673.20" y2="44.30"/>
<text id="bi2T" class="t" x="584.55" y="65.15">T</text>
<text id="bi2s" class="s" x="596.35" y="70.15">2</text>
<text id="t52" class="t" x="602.95" y="64.40">:</text>
<text id="t53" class="t" x="614.35" y="64.90">L</text>
<text id="bi_pa" x="626.05" y="64.80" textLength="22.44" lengthAdjust="spacingAndGlyphs"><tspan class="pi pp">+</tspan><tspan class="gi">α</tspan></text>
<text id="t55" class="ar" x="647.56" y="67.10" textLength="21.54" lengthAdjust="spacingAndGlyphs">→</text>
<text id="bi_dg" x="669.00" y="64.20" textLength="27.90" lengthAdjust="spacingAndGlyphs"><tspan class="gi dl">δ</tspan><tspan class="pi pp">+</tspan><tspan class="gi">γ</tspan></text>
<text id="biET" class="t" x="584.55" y="87.95">T</text>
<text id="biEs" class="s" x="596.10" y="94.05">E</text>
<text id="t59" class="t" x="603.50" y="88.20">:</text>
<text id="t60" class="t" x="616.15" y="87.95">L</text>
<text id="t61" class="ar" x="625.78" y="91.10" textLength="21.63" lengthAdjust="spacingAndGlyphs">→</text>
<text id="bi_bdg" x="647.59" y="87.60" textLength="48.44" lengthAdjust="spacingAndGlyphs"><tspan class="gi">β</tspan><tspan class="pi pp">+</tspan><tspan class="gi dl">δ</tspan><tspan class="pi pp">+</tspan><tspan class="gi">γ</tspan></text>
<line class="dd" x1="446.30" y1="245.80" x2="446.30" y2="496.00"/>
<line class="dd" x1="591.50" y1="245.80" x2="591.50" y2="496.00"/>
<line class="tk" x1="442.30" y1="288.50" x2="447.00" y2="288.50"/>
<line class="tk" x1="442.70" y1="335.70" x2="451.00" y2="335.70"/>
<line class="tk" x1="441.00" y1="392.40" x2="451.00" y2="392.40"/>
<line class="tk" x1="441.00" y1="442.20" x2="451.00" y2="442.20"/>
<path class="c" d="M446.3 288.5 L449.5 288.8 L452.4 289.5 L455.1 290.6 L457.6 292.1 L459.8 294.0 L461.9 296.1 L463.7 298.4 L465.3 301.0 L466.8 303.7 L468.1 306.5 L469.3 309.4 L470.4 312.2 L471.3 315.1 L472.1 318.0 L472.9 320.9 L473.5 323.8 L473.9 326.8 L474.3 329.7 L474.6 332.7 L474.8 335.7"/>
<path class="c" d="M591.5 287.6 L588.3 288.5 L585.3 289.7 L582.6 291.3 L580.2 293.1 L577.9 295.1 L575.9 297.4 L574.1 299.9 L572.5 302.6 L571.0 305.4 L569.7 308.3 L568.6 311.3 L567.6 314.3 L566.8 317.5 L566.0 320.6 L565.4 323.7 L564.9 326.9 L564.5 330.0 L564.2 333.0 L564.0 336.0"/>
<rect class="tr" x="446.3" y="312.6" width="73.5" height="10.2"/>
<line class="c" x1="474.80" y1="335.70" x2="474.80" y2="485.00"/>
<line class="c" x1="564.00" y1="336.00" x2="564.00" y2="485.00"/>
<path class="c" d="M474.8 335.7 L476.4 338.3 L477.8 341.0 L479.2 343.8 L480.5 346.5 L481.7 349.3 L482.9 352.1 L483.9 355.0 L484.9 357.9 L485.8 360.8 L486.7 363.7 L487.5 366.6 L488.2 369.6 L488.9 372.6 L489.5 375.6 L490.0 378.6 L490.5 381.6 L491.0 384.6 L491.4 387.6 L491.7 390.7 L492.0 393.7"/>
<path class="c" d="M564.0 336.0 L562.7 338.8 L561.5 341.5 L560.3 344.3 L559.2 347.1 L558.0 349.9 L556.9 352.8 L555.9 355.6 L554.8 358.5 L553.9 361.4 L552.9 364.3 L552.1 367.2 L551.2 370.1 L550.5 373.0 L549.8 376.0 L549.2 379.0 L548.6 381.9 L548.1 384.9 L547.7 387.9 L547.4 391.0 L547.1 394.0"/>
<line class="c" x1="491.80" y1="392.50" x2="491.80" y2="485.00"/>
<line class="c" x1="547.10" y1="393.00" x2="547.10" y2="485.00"/>
<path class="c" d="M491.8 393.2 L493.3 395.8 L494.7 398.5 L496.1 401.2 L497.4 403.9 L498.7 406.6 L499.9 409.4 L501.0 412.2 L502.1 415.0 L503.1 417.8 L504.0 420.7 L504.8 423.6 L505.5 426.5 L506.1 429.5 L506.6 432.4 L507.0 435.4 L507.2 438.5 L507.4 441.5"/>
<path class="c" d="M547.1 393.8 L545.5 396.5 L543.9 399.3 L542.4 402.1 L541.0 405.0 L539.6 407.8 L538.4 410.8 L537.1 413.7 L536.0 416.7 L535.0 419.7 L534.0 422.7 L533.2 425.8 L532.5 428.9 L531.8 432.0 L531.3 435.1 L530.9 438.3 L530.6 441.5"/>
<line class="c" x1="507.40" y1="441.50" x2="530.60" y2="441.50"/>
<line class="c" x1="507.40" y1="441.50" x2="507.40" y2="485.00"/>
<line class="c" x1="530.60" y1="441.50" x2="530.60" y2="485.00"/>
<rect x="507.4" y="441.5" width="4.2" height="43.5" fill="#b2b2b2"/>
<rect x="515.6" y="441.5" width="2.1" height="43.5" fill="#b2b2b2"/>
<rect x="519.9" y="441.5" width="8.7" height="43.5" fill="#b2b2b2"/>
<line class="bl" x1="509.50" y1="441.50" x2="509.50" y2="485.00"/>
<line class="bl" x1="511.50" y1="441.50" x2="511.50" y2="485.00"/>
<line class="bl" x1="515.70" y1="441.50" x2="515.70" y2="485.00"/>
<line class="bl" x1="517.60" y1="441.50" x2="517.60" y2="485.00"/>
<line class="bl" x1="520.00" y1="441.50" x2="520.00" y2="485.00"/>
<line class="bl" x1="521.40" y1="441.50" x2="521.40" y2="485.00"/>
<line class="bl" x1="522.80" y1="441.50" x2="522.80" y2="485.00"/>
<line class="bl" x1="524.30" y1="441.50" x2="524.30" y2="485.00"/>
<line class="bl" x1="525.70" y1="441.50" x2="525.70" y2="485.00"/>
<line class="bl" x1="527.10" y1="441.50" x2="527.10" y2="485.00"/>
<line class="bl" x1="528.50" y1="441.50" x2="528.50" y2="485.00"/>
<path class="ht" d="M480.2 350.2 L479.5 351.3 L478.9 352.5 L478.4 353.6 L477.9 354.8 L477.5 356.0 L477.1 357.3 L476.8 358.5 L476.6 359.8"/>
<path class="ht" d="M483.8 358.0 L482.7 359.8 L481.7 361.7 L480.8 363.6 L480.0 365.5 L479.3 367.5 L478.7 369.5 L478.2 371.5 L477.8 373.6"/>
<path class="ht" d="M486.2 367.0 L484.7 369.8 L483.4 372.6 L482.2 375.5 L481.1 378.4 L480.1 381.3 L479.2 384.3 L478.4 387.3 L477.8 390.4"/>
<path class="ht" d="M488.6 376.6 L487.2 379.4 L486.0 382.2 L485.0 385.0 L484.0 387.9 L483.2 390.8 L482.5 393.7 L481.9 396.7 L481.4 399.7 L481.0 402.7 L480.7 405.7 L480.5 408.8 L480.3 411.8 L480.1 414.8 L480.0 417.9 L479.9 420.9 L479.9 424.0 L479.8 427.0 L479.8 430.0 L479.8 485.0"/>
<path class="ht" d="M490.4 385.6 L489.2 388.5 L488.2 391.5 L487.3 394.5 L486.4 397.6 L485.7 400.6 L485.1 403.7 L484.7 406.8 L484.2 410.0 L483.9 413.1 L483.7 416.2 L483.5 419.4 L483.4 422.5 L483.3 425.7 L483.3 428.9 L483.3 432.0 L483.3 485.0"/>
<path class="ht" d="M491.6 394.0 L490.6 397.0 L489.7 400.0 L489.1 403.0 L488.6 406.1 L488.3 409.2 L488.0 412.4 L487.8 415.5 L487.7 418.6 L487.6 421.8 L487.5 424.9 L487.4 428.0 L487.4 485.0"/>
<path class="ht" d="M558.0 351.0 L558.8 352.0 L559.5 353.1 L560.2 354.2 L560.8 355.3 L561.3 356.5 L561.7 357.7 L562.1 358.9 L562.4 360.2"/>
<path class="ht" d="M555.0 360.0 L556.2 361.5 L557.2 363.1 L558.2 364.7 L559.2 366.3 L560.0 368.0 L560.7 369.7 L561.4 371.5 L562.0 373.3"/>
<path class="ht" d="M553.0 369.0 L554.3 371.3 L555.6 373.6 L556.7 376.0 L557.8 378.4 L558.7 380.9 L559.6 383.4 L560.3 385.9 L561.0 388.5"/>
<path class="ht" d="M551.0 379.0 L552.9 381.6 L554.4 384.3 L555.7 387.1 L556.8 390.0 L557.7 392.9 L558.4 395.9 L558.9 398.9 L559.3 402.0 L559.5 405.1 L559.7 408.2 L559.8 411.4 L559.8 414.5 L559.8 417.7 L559.8 420.8 L559.8 423.9 L559.9 427.0 L560.0 430.0 L560.0 485.0"/>
<path class="ht" d="M549.2 387.0 L550.9 389.7 L552.4 392.4 L553.5 395.2 L554.4 398.1 L555.1 401.1 L555.6 404.2 L555.9 407.2 L556.1 410.3 L556.2 413.5 L556.3 416.6 L556.2 419.7 L556.2 422.8 L556.3 425.9 L556.3 429.0 L556.5 432.0 L556.5 485.0"/>
<path class="ht" d="M548.0 394.0 L549.5 396.8 L550.7 399.7 L551.6 402.7 L552.2 405.7 L552.6 408.8 L552.9 412.0 L553.0 415.1 L553.0 418.3 L553.0 421.5 L553.0 424.7 L553.0 427.8 L553.0 430.9 L553.2 434.0 L553.2 485.0"/>
<path class="ht" d="M547.6 404.0 L548.4 407.2 L549.0 410.4 L549.5 413.6 L549.9 416.9 L550.2 420.2 L550.4 423.4 L550.4 426.7 L550.3 430.0 L550.3 485.0"/>
<path class="ht" d="M496.3 402.0 L495.7 403.3 L495.2 404.7 L494.8 406.0 L494.4 407.4 L494.1 408.8 L493.9 410.2 L493.7 411.6 L493.6 413.0"/>
<path class="ht" d="M498.9 408.5 L498.0 410.5 L497.1 412.6 L496.4 414.7 L495.8 416.8 L495.3 419.0 L494.9 421.1 L494.6 423.4 L494.4 425.6"/>
<path class="ht" d="M501.5 415.0 L500.1 418.0 L499.0 421.0 L498.2 424.1 L497.7 427.3 L497.4 430.5 L497.2 433.8 L497.1 437.1 L497.0 440.3 L497.0 443.6 L496.9 446.8 L496.7 450.0 L496.7 485.0"/>
<path class="ht" d="M503.8 423.0 L502.8 426.1 L502.0 429.2 L501.4 432.3 L501.0 435.5 L500.8 438.7 L500.6 441.9 L500.5 445.2 L500.4 448.4 L500.4 451.6 L500.3 454.8 L500.2 458.0 L500.2 485.0"/>
<path class="ht" d="M505.9 432.0 L505.3 435.2 L504.9 438.3 L504.6 441.5 L504.3 444.7 L504.1 447.9 L504.0 451.2 L503.9 454.4 L503.9 457.6 L503.9 460.8 L503.8 464.0 L503.8 485.0"/>
<path class="ht" d="M542.1 402.0 L542.7 403.3 L543.2 404.7 L543.6 406.0 L544.0 407.4 L544.3 408.8 L544.5 410.2 L544.7 411.6 L544.8 413.0"/>
<path class="ht" d="M539.5 408.5 L540.4 410.5 L541.3 412.6 L542.0 414.7 L542.6 416.8 L543.1 419.0 L543.5 421.1 L543.8 423.4 L544.0 425.6"/>
<path class="ht" d="M536.9 415.0 L538.3 418.0 L539.4 421.0 L540.2 424.1 L540.7 427.3 L541.0 430.5 L541.2 433.8 L541.3 437.1 L541.4 440.3 L541.4 443.6 L541.5 446.8 L541.7 450.0 L541.7 485.0"/>
<path class="ht" d="M534.6 423.0 L535.6 426.1 L536.4 429.2 L537.0 432.3 L537.4 435.5 L537.6 438.7 L537.8 441.9 L537.9 445.2 L538.0 448.4 L538.0 451.6 L538.1 454.8 L538.2 458.0 L538.2 485.0"/>
<path class="ht" d="M532.5 432.0 L533.1 435.2 L533.5 438.3 L533.8 441.5 L534.1 444.7 L534.3 447.9 L534.4 451.2 L534.5 454.4 L534.5 457.6 L534.5 460.8 L534.6 464.0 L534.6 485.0"/>
<path class="t2" d="M446.3 458.3 H519.7 V468.6 H446.3"/>
<line class="t2" x1="521.80" y1="528.00" x2="516.50" y2="493.50"/>
<polygon fill="#000" points="515.90,489.40 519.69,495.90 514.25,496.74"/>
<text id="blTLT" class="t" x="410.25" y="296.65">T</text>
<text id="blTLs" class="s" x="420.85" y="302.70">L</text>
<text id="blT1T" class="t" x="411.10" y="343.25">T</text>
<text id="blT1s" class="s" x="422.00" y="348.80">1</text>
<text id="blT2T" class="t" x="412.60" y="403.45">T</text>
<text id="blT2s" class="s" x="424.40" y="409.50">2</text>
<text id="blTET" class="t" x="412.05" y="448.45">T</text>
<text id="blTEs" class="s" x="423.15" y="454.80">E</text>
<text id="t71" class="t" x="509.90" y="297.00">L</text>
<text id="t72" class="gt" x="452.70" y="368.25">α</text>
<text id="t73" class="gt" x="573.90" y="368.90">α</text>
<text id="bl_ad1" x="466.00" y="501.20" textLength="32.39" lengthAdjust="spacingAndGlyphs"><tspan class="gb">α</tspan><tspan class="pb pp">+</tspan><tspan class="gb dl">δ</tspan></text>
<text id="bl_ad2" x="539.34" y="501.20" textLength="32.93" lengthAdjust="spacingAndGlyphs"><tspan class="gb">α</tspan><tspan class="pb pp">+</tspan><tspan class="gb dl">δ</tspan></text>
<text id="bl_dg1" x="484.86" y="517.40" textLength="30.12" lengthAdjust="spacingAndGlyphs"><tspan class="gb dl">δ</tspan><tspan class="pb pp">+</tspan><tspan class="gb">γ</tspan></text>
<text id="bl_dg2" x="525.53" y="517.40" textLength="26.39" lengthAdjust="spacingAndGlyphs"><tspan class="gb dl">δ</tspan><tspan class="pb pp">+</tspan><tspan class="gb">γ</tspan></text>
<text id="bl_bdg" x="499.79" y="540.00" textLength="47.32" lengthAdjust="spacingAndGlyphs"><tspan class="gb">β</tspan><tspan class="pb pp">+</tspan><tspan class="gb dl">δ</tspan><tspan class="pb pp">+</tspan><tspan class="gb">γ</tspan></text>
</g>
</g>
</svg>
</body></html>
